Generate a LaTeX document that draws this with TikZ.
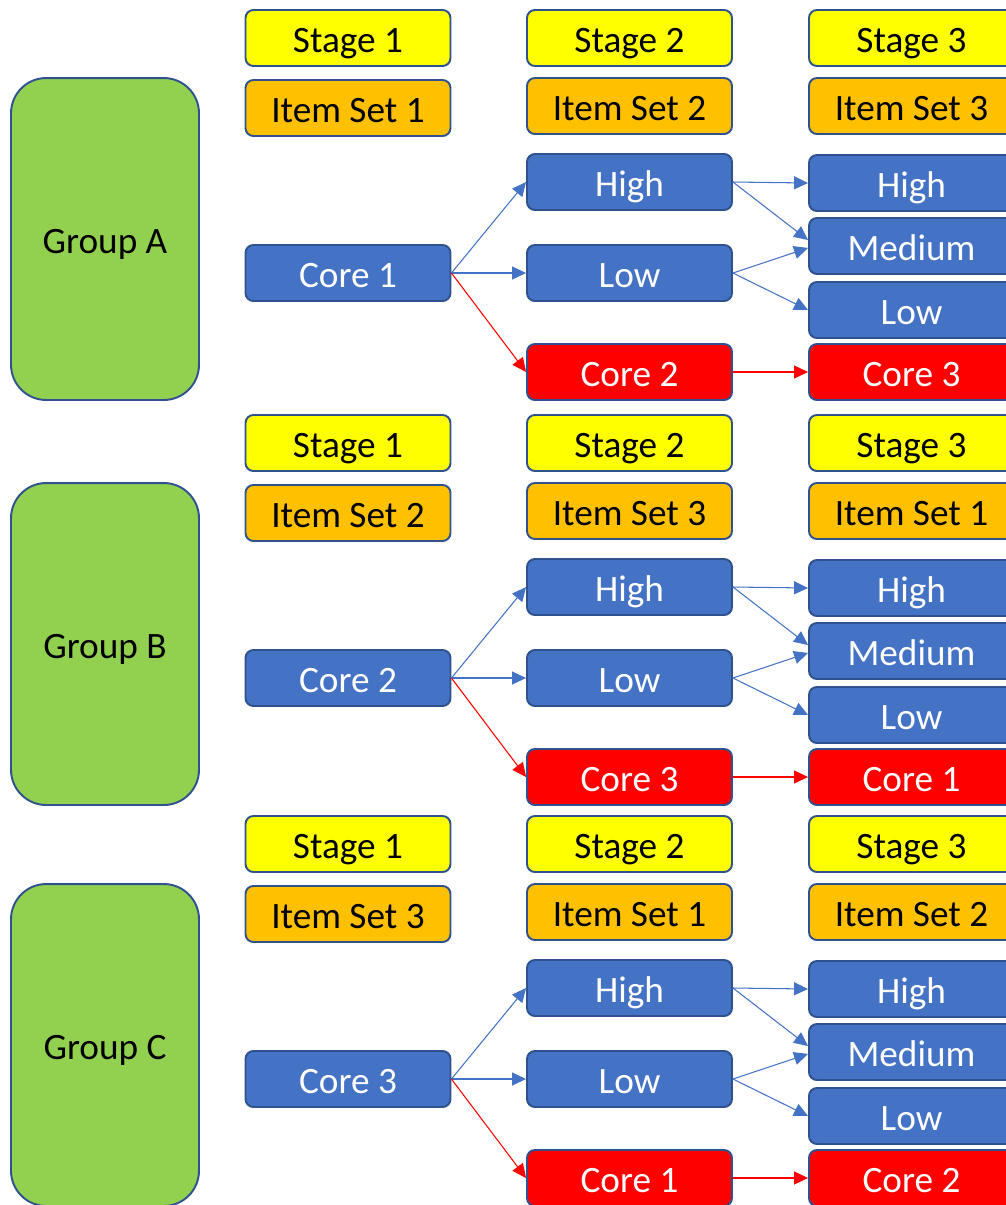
\documentclass[tikz,border=0pt]{standalone}
\usepackage{fontspec}
\setmainfont{Carlito}
\usetikzlibrary{arrows.meta}

\definecolor{boxblue}{HTML}{4472C4}
\definecolor{boxedge}{HTML}{2F528F}
\definecolor{stageyellow}{HTML}{FFFF00}
\definecolor{setorange}{HTML}{FFC000}
\definecolor{groupgreen}{HTML}{92D050}
\definecolor{corered}{HTML}{FF0000}

\begin{document}
\begin{tikzpicture}
[x=0.02cm, y=-0.02cm, font=\fontsize{21.2}{25}\selectfont,
every node/.style={draw=boxedge, line width=1.1pt, rounded corners=4.5pt, minimum width=4.1cm, minimum height=1.12cm, inner sep=0pt, text height=0.62cm, text depth=0.06cm},
stagebox/.style={fill=stageyellow},
setbox/.style={fill=setorange},
levelbox/.style={fill=boxblue, text=white},
corebox/.style={fill=corered, text=white},
groupbox/.style={fill=groupgreen, minimum width=3.76cm, minimum height=6.44cm, rounded corners=20pt},
link/.style={boxblue, line width=0.6pt, -{Triangle[length=0.28cm, width=0.26cm]}},
redlink/.style={link, corered}
]

\useasboundingbox (0,0) rectangle (1006,1205);
\clip (0,0) rectangle (1006,1205);

\foreach \g/\dy/\sa/\sb/\sc/\ca/\cb/\cc in
{A/0/1/2/3/1/2/3, B/405/2/3/1/2/3/1, C/806/3/1/2/3/1/2}
{
\begin{scope}[shift={(0,\dy)}]
% stages and item sets
\node[stagebox] (\g-s1) at (348,38) {Stage 1};
\node[stagebox] (\g-s2) at (629.5,38) {Stage 2};
\node[stagebox] (\g-s3) at (911.5,38) {Stage 3};
\node[setbox] (\g-i1) at (348,108) {Item Set \sa};
\node[setbox] (\g-i2) at (629.5,106) {Item Set \sb};
\node[setbox] (\g-i3) at (911.5,106) {Item Set \sc};

\node[groupbox] (\g-grp) at (105,239) {Group \g};

% routing
\node[levelbox] (\g-c1) at (348,273) {Core \ca};
\node[levelbox] (\g-h2) at (629.5,182) {High};
\node[levelbox] (\g-l2) at (629.5,273) {Low};
\node[corebox] (\g-c2) at (629.5,372) {Core \cb};
\node[levelbox] (\g-h3) at (911.5,183) {High};
\node[levelbox] (\g-m3) at (911.5,246) {Medium};
\node[levelbox] (\g-l3) at (911.5,310) {Low};
\node[corebox] (\g-c3) at (911.5,372) {Core \cc};

\draw[link] (\g-c1.east) -- (\g-h2.west);
\draw[link] (\g-c1.east) -- (\g-l2.west);
\draw[redlink] (\g-c1.east) -- (\g-c2.west);
\draw[link] (\g-h2.east) -- (\g-h3.west);
\draw[link] (\g-h2.east) -- ([yshift=3.4pt]\g-m3.west);
\draw[link] (\g-l2.east) -- ([yshift=-1.1pt]\g-m3.west);
\draw[link] (\g-l2.east) -- (\g-l3.west);
\draw[redlink] (\g-c2.east) -- (\g-c3.west);
\end{scope}
}

\end{tikzpicture}
\end{document}
